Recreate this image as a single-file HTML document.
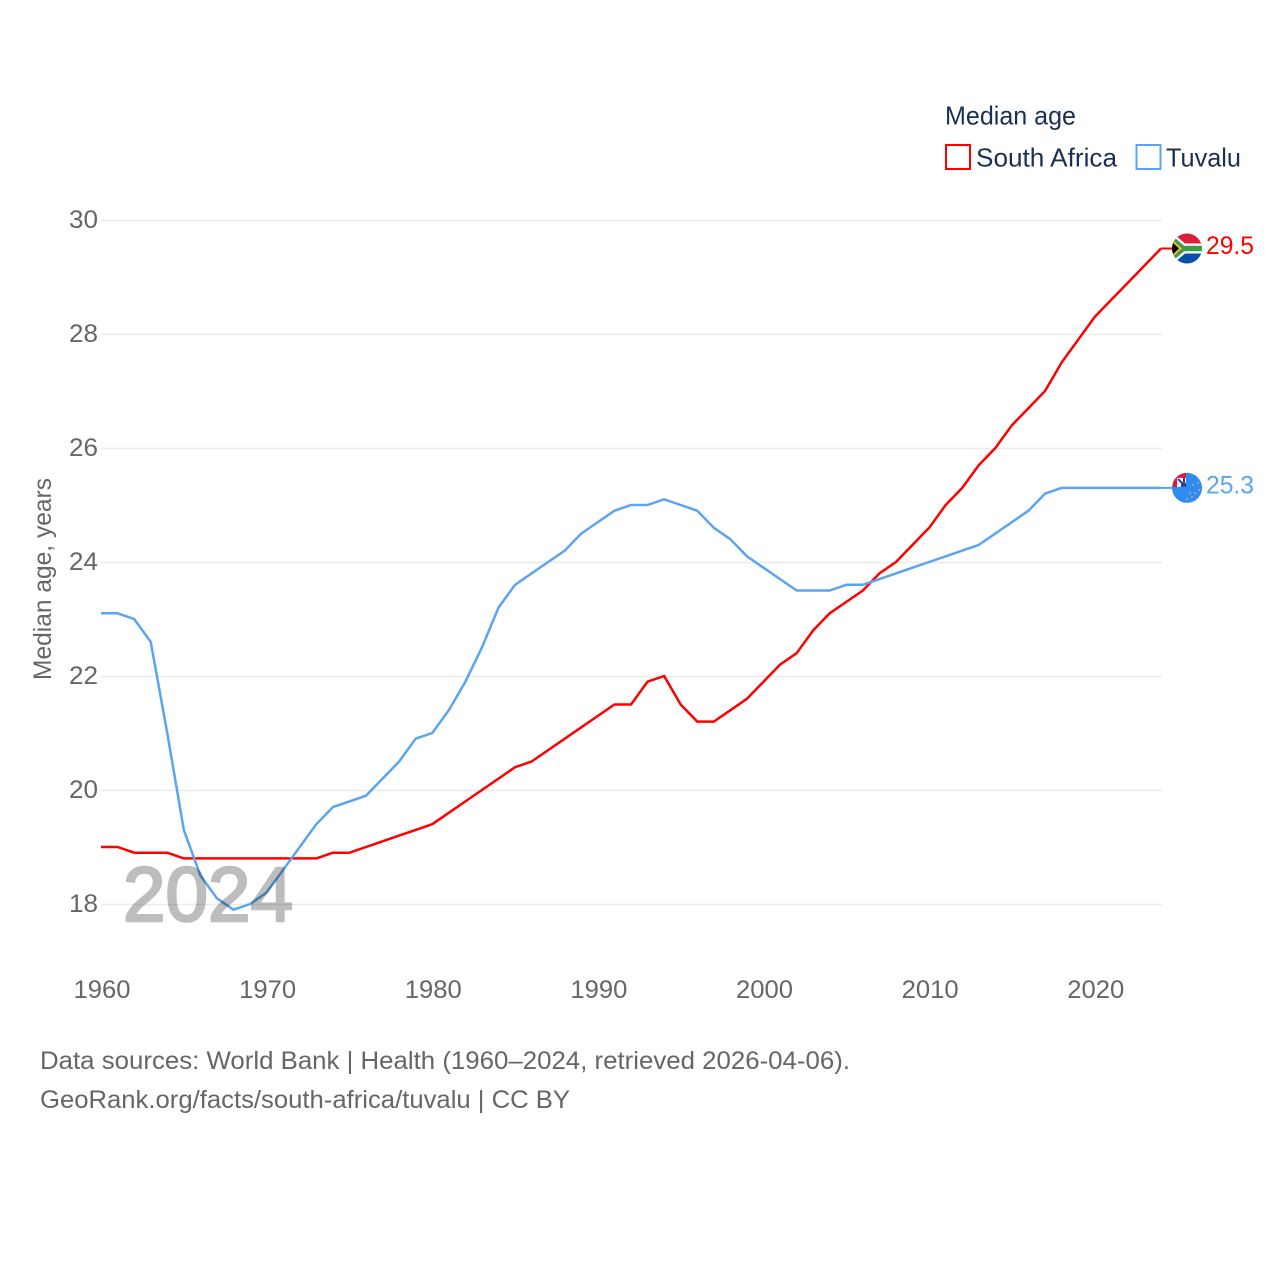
<!DOCTYPE html>
<html lang="en">
<head>
<meta charset="utf-8">
<title>Median age: South Africa and Tuvalu</title>
<style>
html,body{margin:0;padding:0;background:#fff;}
svg{display:block;}
text{font-family:"Liberation Sans",sans-serif;}
</style>
</head>
<body>
<svg id="chart" xmlns="http://www.w3.org/2000/svg" width="1280" height="1280" viewBox="0 0 1280 1280">
  <rect x="0" y="0" width="1280" height="1280" fill="#ffffff"/>

  <g id="grid"></g>
  <g id="y-ticks"></g>
  <g id="x-ticks"></g>

  <text transform="translate(51,680) rotate(-90)" font-size="25" fill="#666666" textLength="202" lengthAdjust="spacingAndGlyphs">Median age, years</text>

  <g id="series"></g>

  <text x="123" y="921" font-size="77" fill="#bdbdbd" stroke="#bdbdbd" stroke-width="2.5" textLength="170" lengthAdjust="spacingAndGlyphs" style="mix-blend-mode:multiply">2024</text>

  <g>
    <text x="945" y="124.500" font-size="26" fill="#1b3050" textLength="131" lengthAdjust="spacingAndGlyphs">Median age</text>
    <rect x="946" y="145" width="24" height="24" fill="none" stroke="#ff0000" stroke-width="2"/>
    <text x="976" y="166.500" font-size="26" fill="#1b3050" textLength="141" lengthAdjust="spacingAndGlyphs">South Africa</text>
    <rect x="1136.500" y="145" width="24" height="24" fill="none" stroke="#5ba4ef" stroke-width="2"/>
    <text x="1166" y="166.500" font-size="26" fill="#1b3050" textLength="75" lengthAdjust="spacingAndGlyphs">Tuvalu</text>
  </g>

  <defs>
    <clipPath id="flag-clip"><circle cx="0" cy="0" r="15"/></clipPath>
  </defs>

  <g id="flag-za">
    <g clip-path="url(#flag-clip)">
      <rect x="-15" y="-15" width="30" height="15" fill="#de1f3c"/>
      <rect x="-15" y="0" width="30" height="15" fill="#0a4fa8"/>
      <path d="M-16,-17 L-2,-5 L15,-5 L15,5 L-2,5 L-16,17 Z" fill="#ffffff"/>
      <path d="M-16,-14 L-3,-2.800 L15,-2.800 L15,2.800 L-3,2.800 L-16,14 Z" fill="#3f9a4c"/>
      <path d="M-16,-10 L-5,0 L-16,10 Z" fill="#f4b72d"/>
      <path d="M-16,-7.500 L-8,0 L-16,7.500 Z" fill="#000000"/>
    </g>
  </g>

  <g id="flag-tv">
    <g clip-path="url(#flag-clip)">
      <rect x="-15" y="-15" width="30" height="30" fill="#2f8bf2"/>
      <rect x="-14" y="-15" width="13" height="14" fill="#e2143c"/>
      <rect x="-10" y="-10" width="9" height="9" fill="#f4f4f8"/>
      <path d="M-9,-9 L-2,-2 M-3,-10 L-3,-5" stroke="#2a3f95" stroke-width="2" fill="none"/>
      <rect x="-6" y="-5" width="5" height="4" fill="#2a3f95"/>
      <g fill="#f2cf45">
        <circle cx="11" cy="-5" r="0.8"/><circle cx="6" cy="-3" r="0.8"/><circle cx="12" cy="2" r="0.8"/>
        <circle cx="8" cy="5" r="0.8"/><circle cx="3" cy="5" r="0.8"/><circle cx="5" cy="9" r="0.8"/>
        <circle cx="0" cy="11" r="0.8"/>
      </g>
    </g>
  </g>

  <g>
    <text x="40" y="1069" font-size="25" fill="#666666" textLength="810" lengthAdjust="spacingAndGlyphs">Data sources: World Bank | Health (1960–2024, retrieved 2026-04-06).</text>
    <text x="40" y="1108" font-size="25" fill="#666666" textLength="530" lengthAdjust="spacingAndGlyphs">GeoRank.org/facts/south-africa/tuvalu | CC BY</text>
  </g>
</svg>
<script>
var years = [1960,1961,1962,1963,1964,1965,1966,1967,1968,1969,1970,1971,1972,1973,1974,1975,1976,1977,1978,1979,1980,1981,1982,1983,1984,1985,1986,1987,1988,1989,1990,1991,1992,1993,1994,1995,1996,1997,1998,1999,2000,2001,2002,2003,2004,2005,2006,2007,2008,2009,2010,2011,2012,2013,2014,2015,2016,2017,2018,2019,2020,2021,2022,2023,2024];
var southAfrica = [19.0,19.0,18.9,18.9,18.9,18.8,18.8,18.8,18.8,18.8,18.8,18.8,18.8,18.8,18.9,18.9,19.0,19.1,19.2,19.3,19.4,19.6,19.8,20.0,20.2,20.4,20.5,20.7,20.9,21.1,21.3,21.5,21.5,21.9,22.0,21.5,21.2,21.2,21.4,21.6,21.9,22.2,22.4,22.8,23.1,23.3,23.5,23.8,24.0,24.3,24.6,25.0,25.3,25.7,26.0,26.4,26.7,27.0,27.5,27.9,28.3,28.6,28.9,29.2,29.5];
var tuvalu = [23.1,23.1,23.0,22.6,21.0,19.3,18.5,18.1,17.9,18.0,18.2,18.6,19.0,19.4,19.7,19.8,19.9,20.2,20.5,20.9,21.0,21.4,21.9,22.5,23.2,23.6,23.8,24.0,24.2,24.5,24.7,24.9,25.0,25.0,25.1,25.0,24.9,24.6,24.4,24.1,23.9,23.7,23.5,23.5,23.5,23.6,23.6,23.7,23.8,23.9,24.0,24.1,24.2,24.3,24.5,24.7,24.9,25.2,25.3,25.3,25.3,25.3,25.3,25.3,25.3];
var yTickValues = [18,20,22,24,26,28,30];
var xTickValues = [1960,1970,1980,1990,2000,2010,2020];

var SVG_NS = 'http://www.w3.org/2000/svg';
function xScale(year) { return 101 + (year - 1960) * (1161 - 101) / 64; }
function yScale(age) { return 904 - (age - 18) * (904 - 220) / 12; }

var gridGroup = document.getElementById('grid');
var yTickGroup = document.getElementById('y-ticks');
var xTickGroup = document.getElementById('x-ticks');
var seriesGroup = document.getElementById('series');
var root = document.getElementById('chart');

yTickValues.forEach(function (v) {
  var line = document.createElementNS(SVG_NS, 'line');
  
  
  line.setAttribute('x1', 101);
  line.setAttribute('x2', 1162);
  line.setAttribute('y1', yScale(v) + 0.5);
  line.setAttribute('y2', yScale(v) + 0.5);
  line.setAttribute('stroke', '#ebebeb');
  line.setAttribute('stroke-width', 1.5);
  gridGroup.appendChild(line);

  var label = document.createElementNS(SVG_NS, 'text');
  
  
  label.setAttribute('x', 69);
  label.setAttribute('y', yScale(v) + 8);
  label.setAttribute('font-size', 25);
  label.setAttribute('fill', '#666666');
  label.setAttribute('textLength', 29);
  label.setAttribute('lengthAdjust', 'spacingAndGlyphs');
  label.textContent = String(v);
  yTickGroup.appendChild(label);
});

xTickValues.forEach(function (v) {
  var label = document.createElementNS(SVG_NS, 'text');
  
  
  label.setAttribute('x', xScale(v) - 27.5);
  label.setAttribute('y', 998);
  label.setAttribute('font-size', 25);
  label.setAttribute('fill', '#666666');
  label.setAttribute('textLength', 57);
  label.setAttribute('lengthAdjust', 'spacingAndGlyphs');
  label.textContent = String(v);
  xTickGroup.appendChild(label);
});

function drawSeries(values, color, slug, flagId) {
  var d = values.map(function (v, i) {
    return (i ? 'L' : 'M') + xScale(years[i]).toFixed(2) + ',' + yScale(v).toFixed(2);
  }).join(' ');
  var path = document.createElementNS(SVG_NS, 'path');
  
  
  path.setAttribute('d', d);
  path.setAttribute('fill', 'none');
  path.setAttribute('stroke', color);
  path.setAttribute('stroke-width', 2.5);
  path.setAttribute('stroke-linejoin', 'round');
  seriesGroup.appendChild(path);

  var last = values[values.length - 1];
  var endX = xScale(years[years.length - 1]);
  var endY = yScale(last);

  var connector = document.createElementNS(SVG_NS, 'line');
  
  
  connector.setAttribute('x1', endX);
  connector.setAttribute('x2', endX + 12);
  connector.setAttribute('y1', endY);
  connector.setAttribute('y2', endY);
  connector.setAttribute('stroke', color);
  connector.setAttribute('stroke-width', 2);
  seriesGroup.appendChild(connector);

  document.getElementById(flagId).setAttribute('transform', 'translate(1187,' + endY + ')');

  var value = document.createElementNS(SVG_NS, 'text');
  
  
  value.setAttribute('x', 1206);
  value.setAttribute('y', endY + 5.5);
  value.setAttribute('font-size', 25);
  value.setAttribute('fill', color);
  value.setAttribute('textLength', 48);
  value.setAttribute('lengthAdjust', 'spacingAndGlyphs');
  value.textContent = last.toFixed(1);
  root.appendChild(value);
}

drawSeries(southAfrica, '#ff0000', 'south-africa', 'flag-za');
drawSeries(tuvalu, '#5ba4ef', 'tuvalu', 'flag-tv');
</script>
</body>
</html>
